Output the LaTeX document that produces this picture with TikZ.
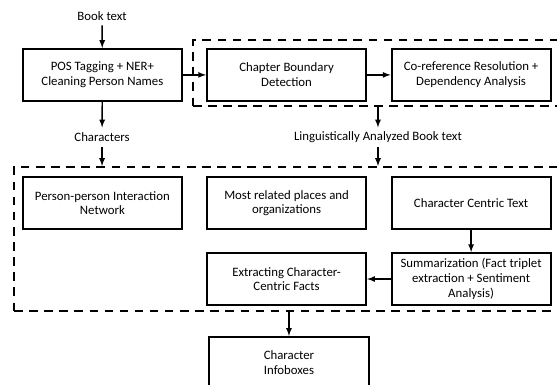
\documentclass[tikz,border=0pt]{standalone}
\usepackage{fontspec}
\setmainfont{Carlito}
\usepackage{tikz}
\usetikzlibrary{arrows}
\tikzset{flow/.style={->, >=latex, line width=1.2pt}}
\tikzset{stage/.style={rectangle, draw, line width=1.7pt, minimum width=\boxw, minimum height=\boxh, align=center, inner sep=2pt}}
\tikzset{group/.style={rectangle, draw, line width=1.7pt, dash pattern=on 7pt off 5.5pt, anchor=south west, inner sep=0pt}}
\tikzset{tag/.style={minimum height=.55cm, inner sep=0pt}}
\newcommand{\boxw}{4.63cm}
\newcommand{\boxh}{1.51cm}
\newcommand{\rowA}{9.02}
\newcommand{\rowB}{5.29}
\newcommand{\rowC}{3.08}

\begin{document}
\begin{tikzpicture}[font=\fontsize{10.6}{12.2}\selectfont]
  \useasboundingbox (0,0) rectangle (16.21,11.20);

  % --- dashed groups ---
  \node[group, minimum width=11.6cm, minimum height=1.92cm] (prep) at (5.59,8.09) {};
  \node[group, minimum width=16.8cm, minimum height=4.19cm] (out) at (0.38,2.12) {};

  % --- preprocessing ---
  \node[tag] (book) at (2.97,10.74) {Book text};
  \node[stage] (pos) at (2.98,\rowA) {POS Tagging + NER+\\Cleaning Person Names};
  \node[stage] (chap) at (8.34,\rowA) {Chapter Boundary\\Detection};
  \node[stage] (coref) at (13.71,\rowA) {Co-reference Resolution +\\Dependency Analysis};

  \draw[flow] (book) -- (pos);
  \draw[flow] (pos) -- (chap);
  \draw[flow] (chap) -- (coref);

  % --- intermediate results ---
  \node[tag] (chars) at (2.97,7.21) {Characters};
  \node[tag] (ling) at (11.0,7.21) {Linguistically Analyzed Book text};

  \draw[flow] (pos) -- (chars);
  \draw[flow] (chars) -- (chars |- out.north);
  \draw[flow] (ling |- prep.south) -- (ling);
  \draw[flow] (ling) -- (ling |- out.north);

  % --- analysis ---
  \node[stage] (net) at (2.98,\rowB) {Person-person Interaction\\Network};
  \node[stage] (places) at (8.34,\rowB) {Most related places and\\organizations};
  \node[stage] (cct) at (13.71,\rowB) {Character Centric Text};
  \node[stage] (summ) at (13.71,\rowC) {Summarization (Fact triplet\\extraction + Sentiment\\Analysis)};
  \node[stage] (facts) at (8.34,\rowC) {Extracting Character-\\Centric Facts};

  \draw[flow] (cct) -- (summ);
  \draw[flow] (summ) -- (facts);

  % --- result ---
  \node[stage] (info) at (8.41,0.64) {Character\\Infoboxes};
  \draw[flow] (info |- out.south) -- (info);
\end{tikzpicture}
\end{document}
